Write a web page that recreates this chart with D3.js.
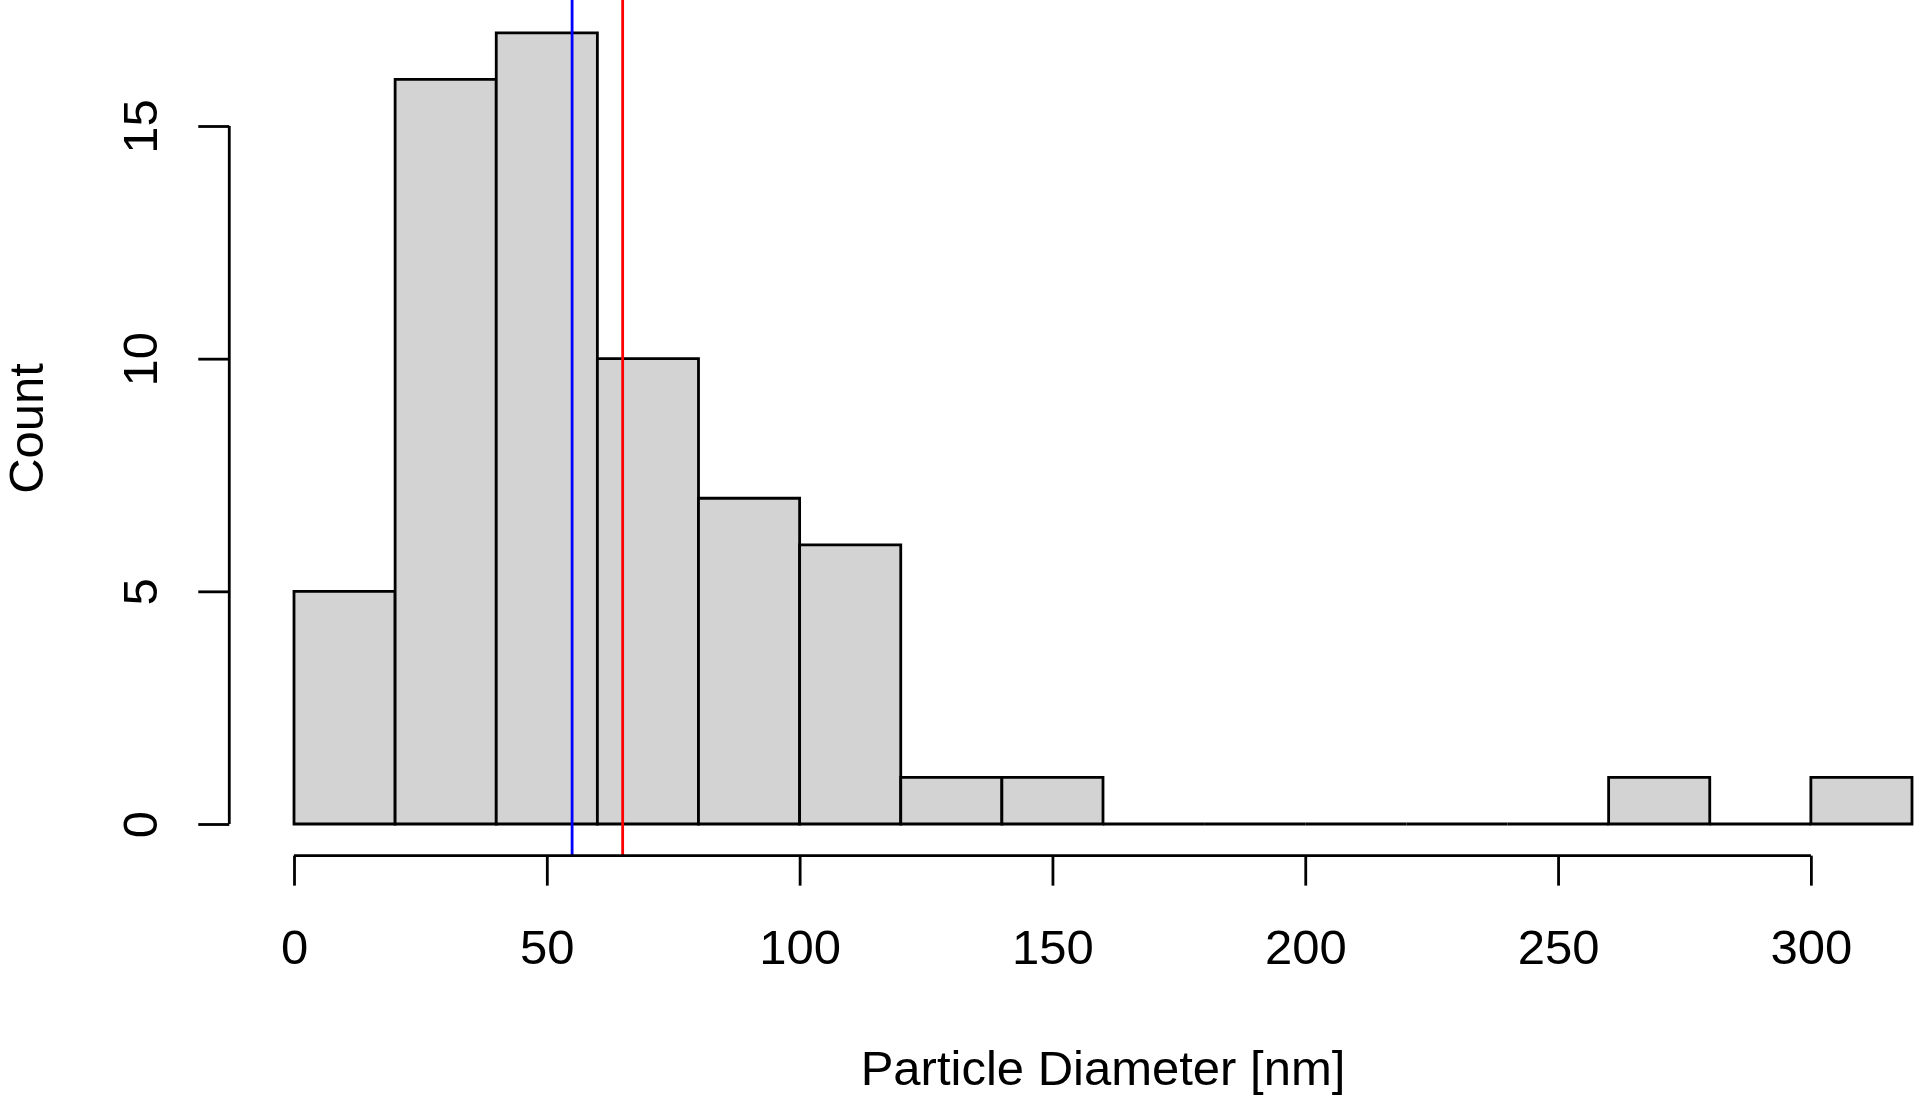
<!DOCTYPE html>
<html>
<head>
<meta charset="utf-8">
<script src="https://cdn.jsdelivr.net/npm/d3@7"></script>
<style>
  html, body { margin: 0; padding: 0; background: #fff; }
  svg { display: block; font-family: "Liberation Sans", Arial, Helvetica, sans-serif; }
</style>
</head>
<body>
<div id="chart"></div>
<script>
// histogram bins (nm) and counts
const binStarts = [0, 20, 40, 60, 80, 100, 120, 140, 160, 180, 200, 220, 240, 260, 280, 300];
const binWidth = 20;
const counts = [5, 16, 17, 10, 7, 6, 1, 1, 0, 0, 0, 0, 0, 1, 0, 1];
const xTicks = [0, 50, 100, 150, 200, 250, 300];
const yTicks = [0, 5, 10, 15];
const medianLine = 55;   // blue
const meanLine = 65;     // red

const W = 1920, H = 1104;
const FONT = '49px';
const LW = 2.8;

// R-style plot region: axis limits padded by 4%
const x = d3.scaleLinear().domain([0, 320]).range([294, 1912]);
const y = d3.scaleLinear().domain([0, 15]).range([824, 126]);
const yPad = [-0.68, 17.68];

const svg = d3.select('#chart').append('svg')
  .attr('width', W).attr('height', H);

// Bars (paths so that empty bins still show as a line on the baseline)
svg.selectAll('.bar')
  .data(binStarts.map((s, i) => ({ x0: s, x1: s + binWidth, n: counts[i] })))
  .join('path')
    .attr('class', 'bar')
    .attr('d', d => `M${x(d.x0)},${y(0)}V${y(d.n)}H${x(d.x1)}V${y(0)}Z`)
    .attr('fill', '#d3d3d3')
    .attr('stroke', '#000')
    .attr('stroke-width', LW)
    .attr('stroke-linejoin', 'miter');

// Vertical reference lines
svg.selectAll('.vline')
  .data([{ v: medianLine, c: '#0000ff' }, { v: meanLine, c: '#ff0000' }])
  .join('line')
    .attr('x1', d => x(d.v)).attr('x2', d => x(d.v))
    .attr('y1', y(yPad[1]) - 2).attr('y2', y(yPad[0]))
    .attr('stroke', d => d.c)
    .attr('stroke-width', LW);

// X axis
const xAxis = svg.append('g')
  .attr('transform', `translate(0,${y(yPad[0])})`)
  .call(d3.axisBottom(x).tickValues(xTicks).tickSize(30).tickSizeOuter(0).tickPadding(44))
  .call(ax => ax.select('.domain').attr('d', `M${x(0)},0H${x(300)}`));
xAxis.selectAll('line, path').attr('stroke', '#000').attr('stroke-width', LW);
xAxis.selectAll('text').attr('fill', '#000').style('font-size', FONT)
  .attr('font-family', null);

// Y axis
const yAxisX = x(-12.8);
const yAxis = svg.append('g')
  .attr('transform', `translate(${yAxisX},0)`)
  .call(d3.axisLeft(y).tickValues(yTicks).tickSize(31).tickSizeOuter(0))
  .call(ax => ax.select('.domain').attr('d', `M0,${y(0)}V${y(15)}`));
yAxis.selectAll('line, path').attr('stroke', '#000').attr('stroke-width', LW);
yAxis.selectAll('text')
  .attr('fill', '#000').style('font-size', FONT).attr('font-family', null)
  .attr('transform', 'rotate(-90)')
  .attr('x', 0).attr('y', -72).attr('dy', 0)
  .attr('text-anchor', 'middle');

// Axis titles
svg.append('text')
  .attr('x', 1103).attr('y', 1085)
  .attr('text-anchor', 'middle')
  .style('font-size', FONT)
  .text('Particle Diameter [nm]');

svg.append('text')
  .attr('transform', `translate(43,${(y(yPad[0]) + y(yPad[1])) / 2}) rotate(-90)`)
  .attr('text-anchor', 'middle')
  .style('font-size', FONT)
  .text('Count');
</script>
</body>
</html>
